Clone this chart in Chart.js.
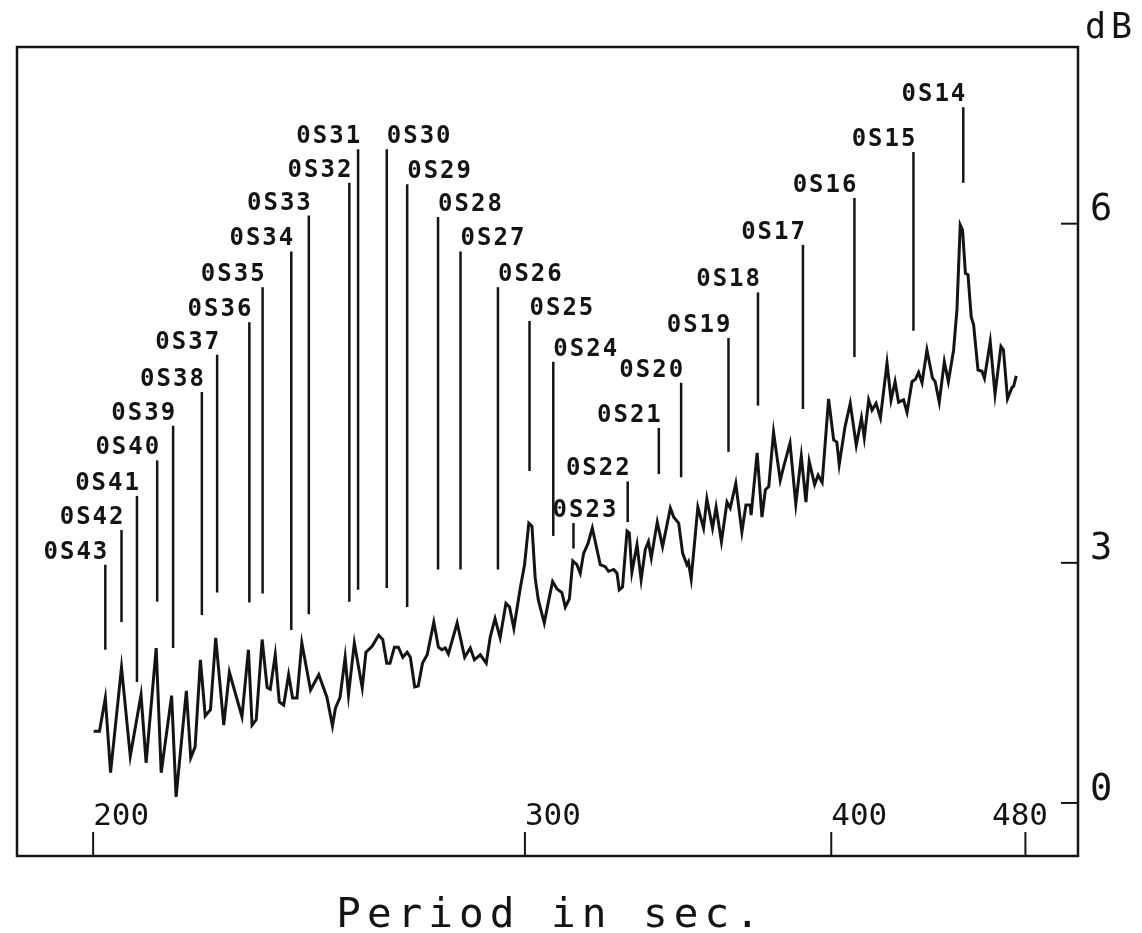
<!DOCTYPE html>
<html>
<head>
<meta charset="utf-8">
<title>0S mode spectrum</title>
<script src="https://cdn.jsdelivr.net/npm/chart.js@4.4.0/dist/chart.umd.min.js"></script>
<style>
  html, body { margin: 0; padding: 0; background: #fff; }
  #chart { display: block; }
</style>
</head>
<body>
<canvas id="chart" width="1142" height="933"></canvas>
<script>
// Period (s) of each spectrum sample
const periods = [
    200.1, 201.2, 202.3, 203.3, 205.4, 207.1, 209.2, 210.2, 212.2, 213.2,
    215.3, 216.2, 218.3, 219.2, 220.1, 221.2, 222.2, 223.3, 224.4, 226.1,
    227.3, 230.0, 231.4, 232.2, 233.1, 234.4, 235.5, 236.2, 237.3,
    238.2, 239.2, 240.3, 241.2, 242.2, 243.3, 245.3, 247.2, 249.1, 250.4,
    251.1, 252.2, 253.4, 254.2, 255.6, 257.5, 258.4, 259.9, 261.5, 262.5,
    263.5, 264.3, 265.4, 266.4, 267.5, 268.6, 269.4, 270.5, 271.4, 272.5,
    273.7, 275.4, 276.6, 277.5, 278.4, 279.2, 281.5, 283.5, 285.0, 286.1,
    287.7, 289.3,
    290.4, 291.7, 293.1, 294.7, 295.7, 296.9, 298.7, 299.9, 301.1, 302.0,
    302.9, 303.8, 305.5, 306.7, 307.9, 309.2, 310.6, 311.6, 312.8, 313.8,
    315.0, 316.0, 317.0, 318.3, 319.6, 321.0, 322.0, 323.5, 324.5, 326.1,
    327.1, 327.8, 328.8, 330.2, 330.9, 331.7, 333.3, 334.6, 335.9, 336.9,
    337.8, 338.9, 339.7,
    341.4, 343.9, 345.0, 346.6, 347.9, 349.3, 349.8, 350.7, 352.9, 354.8,
    355.9, 357.8, 359.0, 360.8, 362.7, 363.8, 365.7, 367.8, 369.2, 370.7,
    371.0, 373.1, 374.8, 376.0, 377.2, 378.9, 381.3, 382.5, 384.8, 386.9,
    388.9, 390.6, 391.8, 393.8, 395.1, 396.6, 399.0, 400.9, 402.1, 403.0,
    405.2, 407.2, 409.5, 411.5, 412.6, 414.3, 415.6, 417.2, 418.9, 421.5,
    423.1, 424.7, 426.1, 428.1, 429.5, 431.5, 432.9, 434.2, 435.6, 437.6,
    439.9, 441.0, 442.7, 444.8, 446.5, 448.7, 450.1, 451.5, 452.5, 453.7,
    454.8, 456.2, 457.2, 459.1, 460.8, 461.9, 464.4, 466.5, 469.1, 470.2,
    472.0, 474.0, 474.7, 475.9
];

// Spectral level (dB) of each sample
const levelsDb = [
    1.01, 1.01, 1.44, 0.44, 1.82, 0.67, 1.48, 0.58, 2.05, 0.44,
    1.47, 0.09, 1.53, 0.65, 0.80, 1.91, 1.21, 1.29, 2.17, 1.09,
    1.76, 1.20, 2.03, 1.09, 1.16, 2.15, 1.57, 1.55, 1.97,
    1.39, 1.35, 1.73, 1.44, 1.44, 2.11, 1.54, 1.73, 1.45, 1.08,
    1.31, 1.45, 1.94, 1.48, 2.11, 1.57, 2.00, 2.07, 2.20, 2.15,
    1.87, 1.87, 2.06, 2.06, 1.94, 2.00, 1.94, 1.58, 1.59, 1.87,
    1.97, 2.35, 2.06, 2.03, 2.05, 1.98, 2.34, 1.94, 2.05, 1.91,
    1.97, 1.87,
    2.18, 2.39, 2.17, 2.56, 2.52, 2.28, 2.73, 2.98, 3.41, 3.38,
    2.84, 2.60, 2.34, 2.58, 2.80, 2.72, 2.68, 2.52, 2.61, 3.02,
    2.98, 2.89, 3.10, 3.20, 3.36, 3.14, 2.98, 2.96, 2.91, 2.93,
    2.89, 2.71, 2.74, 3.33, 3.31, 2.90, 3.19, 2.82, 3.14, 3.22,
    3.05, 3.27, 3.42,
    3.17, 3.56, 3.47, 3.41, 3.10, 2.98, 3.01, 2.83, 3.57, 3.36,
    3.65, 3.36, 3.57, 3.22, 3.62, 3.56, 3.80, 3.32, 3.59, 3.59,
    3.49, 4.09, 3.47, 3.74, 3.77, 4.28, 3.83, 3.96, 4.18, 3.60,
    4.06, 3.62, 4.01, 3.79, 3.88, 3.81, 4.58, 4.21, 4.19, 3.98,
    4.33, 4.54, 4.16, 4.41, 4.23, 4.57, 4.48, 4.54, 4.41, 4.89,
    4.57, 4.73, 4.55, 4.57, 4.46, 4.73, 4.75, 4.81, 4.72, 5.00,
    4.76, 4.73, 4.55, 4.90, 4.73, 5.00, 5.33, 5.99, 5.95, 5.62,
    5.61, 5.27, 5.21, 4.83, 4.82, 4.76, 5.07, 4.62, 5.03, 5.00,
    4.58, 4.68, 4.69, 4.78
];

// Normal mode markers: name, period, and the dB span of the marker line
const modeNames = [
    '0S43', '0S42', '0S41', '0S40', '0S39', '0S38', '0S37', '0S36', '0S35', '0S34',
    '0S33', '0S32', '0S31', '0S30', '0S29', '0S28', '0S27', '0S26', '0S25', '0S24',
    '0S23', '0S22', '0S21', '0S20', '0S19', '0S18', '0S17', '0S16', '0S15', '0S14'
];
const modePeriods = [
    202.3, 205.4, 208.4, 212.4, 215.6, 221.5, 224.7, 231.6, 234.5, 240.9,
    244.9, 254.4, 256.5, 263.5, 268.6, 276.5, 282.4, 292.5, 301.3, 308.1,
    314.0, 330.4, 340.2, 347.4, 363.2, 373.4, 389.5, 408.8, 432.1, 452.8
];
const modeTopDb = [
    2.98, 3.34, 3.68, 4.02, 4.34, 4.64, 4.96, 5.23, 5.51, 5.79,
    6.06, 6.30, 6.54, 6.54, 6.29, 6.05, 5.79, 5.51, 5.24, 4.90,
    3.41, 3.82, 4.32, 4.72, 5.10, 5.47, 5.84, 6.19, 6.52, 6.83
];
const modeBottomDb = [
    2.03, 2.35, 1.64, 2.58, 2.05, 2.43, 2.68, 2.57, 2.67, 2.26,
    2.44, 2.58, 2.71, 2.73, 2.52, 2.93, 2.93, 2.93, 3.92, 3.28,
    3.15, 3.42, 3.89, 3.86, 4.10, 4.52, 4.49, 4.94, 5.16, 6.30
];
// which side of the marker line the name sits on
const modeLabelAlign = [
    'right', 'right', 'right', 'right', 'right', 'right', 'right', 'right', 'right', 'right',
    'right', 'right', 'right', 'left', 'left', 'left', 'left', 'left', 'left', 'left',
    'center', 'right', 'right', 'right', 'right', 'right', 'right', 'right', 'right', 'right'
];

const xTickValues = [200, 300, 400, 480];
const yTickDb = [0, 3, 6];
const xMin = 186.2, xMax = 504.3;
const yMinDb = -0.83, yMaxDb = 7.23;

const ink = '#141414';
const monoFont = "'DejaVu Sans Mono', 'Liberation Mono', monospace";

// the level axis is linear in amplitude, labelled in dB
const dbToAmp = db => Math.pow(10, db / 20);
const ampToDb = a => 20 * Math.log10(a);

function strokeLine(ctx, x1, y1, x2, y2) {
    ctx.beginPath();
    ctx.moveTo(x1, y1);
    ctx.lineTo(x2, y2);
    ctx.stroke();
}

// Frame, inward ticks, period labels, mode markers and the free texts
const plotDecorations = {
    id: 'plotDecorations',
    afterDatasetsDraw(chart) {
        const { ctx, chartArea: area, scales: { x, y } } = chart;
        ctx.save();
        ctx.strokeStyle = ink;
        ctx.fillStyle = ink;
        ctx.lineCap = 'butt';

        ctx.lineWidth = 2.5;
        ctx.strokeRect(area.left, area.top, area.right - area.left, area.bottom - area.top);

        // period ticks point up into the plot, labels sit above them
        ctx.lineWidth = 2;
        ctx.font = '31px ' + monoFont;
        ctx.textAlign = 'left';
        ctx.textBaseline = 'alphabetic';
        x.ticks.forEach(t => {
            const px = x.getPixelForValue(t.value);
            strokeLine(ctx, px, area.bottom, px, area.bottom - 24);
            const label = String(t.value);
            const w = ctx.measureText(label).width;
            ctx.fillText(label, Math.min(px, area.right - 30 - w), area.bottom - 31);
        });
        y.ticks.forEach(t => {
            const py = y.getPixelForValue(t.value);
            strokeLine(ctx, area.right, py, area.right - 17, py);
        });

        // mode markers
        ctx.lineWidth = 2.5;
        ctx.font = 'bold 24px ' + monoFont;
        ctx.letterSpacing = '2px';
        modeNames.forEach((name, i) => {
            const px = x.getPixelForValue(modePeriods[i]);
            const top = y.getPixelForValue(dbToAmp(modeTopDb[i]));
            const bottom = y.getPixelForValue(dbToAmp(modeBottomDb[i]));
            strokeLine(ctx, px, top, px, bottom);
            const align = modeLabelAlign[i];
            ctx.textAlign = align;
            const tx = align === 'right' ? px + 4 : align === 'center' ? px + 12 : px;
            ctx.fillText(name, tx, top - 6);
        });

        // unit of the level axis
        ctx.textAlign = 'left';
        ctx.font = '35px ' + monoFont;
        ctx.letterSpacing = '5px';
        ctx.fillText('dB', area.right + 7, 38);

        // axis title
        ctx.textAlign = 'center';
        ctx.font = '41px ' + monoFont;
        ctx.letterSpacing = '6px';
        ctx.fillText('Period in sec.', 551, 927);
        ctx.restore();
    }
};

new Chart(document.getElementById('chart'), {
    type: 'line',
    data: {
        datasets: [{
            data: periods.map((p, i) => ({ x: p, y: dbToAmp(levelsDb[i]) })),
            borderColor: ink,
            borderWidth: 3,
            pointRadius: 0,
            tension: 0,
            fill: false
        }]
    },
    options: {
        responsive: false,
        animation: false,
        devicePixelRatio: 1,
        layout: { padding: { left: 17, top: 47, right: 0, bottom: 0 } },
        plugins: {
            legend: { display: false },
            tooltip: { enabled: false }
        },
        scales: {
            x: {
                type: 'logarithmic',
                position: 'bottom',
                min: xMin,
                max: xMax,
                afterBuildTicks: scale => { scale.ticks = xTickValues.map(v => ({ value: v })); },
                afterFit: scale => { scale.height = 77; },
                grid: { display: false, drawTicks: false },
                border: { display: false },
                ticks: { display: false }
            },
            y: {
                type: 'linear',
                position: 'right',
                min: dbToAmp(yMinDb),
                max: dbToAmp(yMaxDb),
                afterBuildTicks: scale => { scale.ticks = yTickDb.map(d => ({ value: dbToAmp(d) })); },
                afterFit: scale => { scale.width = 64; },
                grid: { display: false, drawTicks: false },
                border: { display: false },
                ticks: {
                    padding: 12,
                    labelOffset: -13,
                    color: ink,
                    font: { family: monoFont, size: 37 },
                    callback: v => String(Math.round(ampToDb(v)))
                }
            }
        }
    },
    plugins: [plotDecorations]
});
</script>
</body>
</html>
